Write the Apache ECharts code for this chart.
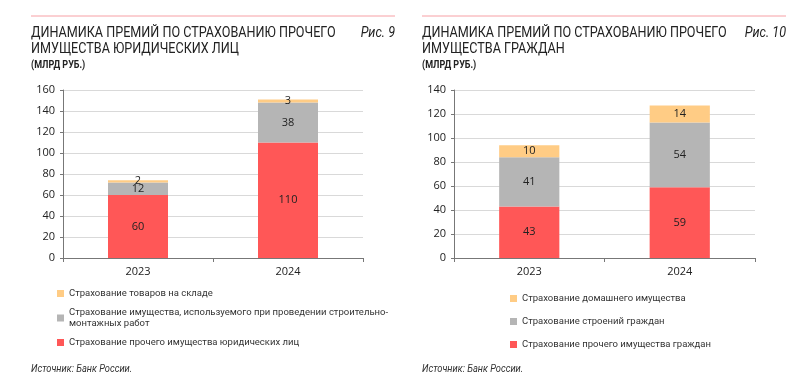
<!DOCTYPE html>
<html>
<head>
<meta charset="utf-8">
<script src="https://cdn.jsdelivr.net/npm/echarts@6/dist/echarts.min.js"></script>
<style>
	html, body { margin: 0; padding: 0; background: #fff; }
	#chart { width: 800px; height: 377px; }
</style>
</head>
<body>
<div id="chart"></div>
<script>
// годы
var years = ['2023', '2024']

// Рис. 9 — юридические лица
var legalNames = [
	'Страхование прочего имущества юридических лиц',
	'Страхование имущества, используемого при проведении строительно-монтажных работ',
	'Страхование товаров на складе'
]
var legalOther = [60, 110]
var legalBuild = [12, 38]
var legalStock = [2, 3]

// Рис. 10 — граждане
var citizenNames = [
	'Страхование прочего имущества граждан',
	'Страхование строений граждан',
	'Страхование домашнего имущества'
]
var citizenOther = [43, 59]
var citizenBuild = [41, 54]
var citizenHome = [10, 14]

var colors = ['#FF5757', '#B5B5B5', '#FFCC85']
var labelFont = '"Open Sans", "Noto Sans", sans-serif'
var textFont = 'Roboto, sans-serif'

function makeSeries(name, data, idx, stack, i) {
	return {
		type: 'bar',
		name: name,
		data: data,
		stack: stack,
		xAxisIndex: idx,
		yAxisIndex: idx,
		barWidth: '40%',
		itemStyle: { color: colors[i] },
		label: {
			show: true,
			position: 'inside',
			color: '#222',
			fontSize: 11,
			fontFamily: labelFont
		}
	}
}

function xAx(idx) {
	return {
		type: 'category',
		gridIndex: idx,
		data: years,
		axisLine: { lineStyle: { color: '#777' } },
		axisTick: { show: true, length: 4, lineStyle: { color: '#777' } },
		axisLabel: { color: '#222', fontSize: 11, fontFamily: labelFont, margin: 8 }
	}
}

function yAx(idx, max) {
	return {
		type: 'value',
		gridIndex: idx,
		min: 0,
		max: max,
		interval: 20,
		axisLine: { show: true, lineStyle: { color: '#777' } },
		axisTick: { show: true, length: 3, lineStyle: { color: '#777' } },
		axisLabel: { color: '#222', fontSize: 11, fontFamily: labelFont, margin: 8 },
		splitLine: { lineStyle: { color: '#D9D9D9' } }
	}
}

function legendCfg(names, left, top, gap) {
	return {
		orient: 'vertical',
		left: left,
		top: top,
		padding: 0,
		itemWidth: 7,
		itemHeight: 7,
		itemGap: gap,
		icon: 'rect',
		data: names.slice().reverse(),
		formatter: function (name) {
			return name.replace('строительно-', 'строительно-\n')
		},
		textStyle: { color: '#333', fontSize: 9.5, fontFamily: textFont, lineHeight: 11 }
	}
}

// текстовые подписи (заголовки, номера рисунков, источник)
function txt(text, x, y, size, opts) {
	opts = opts || {}
	return {
		type: 'text',
		x: x,
		y: y,
		scaleX: opts.scale || 1,
		style: {
			text: text,
			fill: opts.color || '#222',
			font: (opts.italic ? 'italic ' : '') + (opts.bold ? 'bold ' : '') + size + 'px ' + textFont,
			lineHeight: opts.lh || size + 2,
			align: opts.align || 'left',
			verticalAlign: 'top'
		}
	}
}

function header(title, x, right, num) {
	return [
		{ type: 'line', shape: { x1: x, y1: 16, x2: right, y2: 16 }, style: { stroke: '#F7A0A5', lineWidth: 1 } },
		txt(title, x, 25, 14, { scale: 0.9, lh: 16 }),
		txt(num, right, 25, 14, { scale: 0.9, italic: true, align: 'right' }),
		txt('(МЛРД РУБ.)', x, 59, 10, { bold: true, scale: 0.9 }),
		txt('Источник: Банк России.', x, 363, 10, { italic: true, color: '#333', scale: 0.93 })
	]
}

var chart = echarts.init(document.getElementById('chart'), null, { renderer: 'canvas' })
chart.setOption({
	backgroundColor: '#fff',
	animation: false,
	graphic: header('ДИНАМИКА ПРЕМИЙ ПО СТРАХОВАНИЮ ПРОЧЕГО\nИМУЩЕСТВА ЮРИДИЧЕСКИХ ЛИЦ', 31, 395, 'Рис. 9')
		.concat(header('ДИНАМИКА ПРЕМИЙ ПО СТРАХОВАНИЮ ПРОЧЕГО\nИМУЩЕСТВА ГРАЖДАН', 422, 786, 'Рис. 10')),
	legend: [
		legendCfg(legalNames, 57, 288, 8),
		legendCfg(citizenNames, 510, 293, 12)
	],
	grid: [
		{ left: 63, top: 90, width: 300, height: 168 },
		{ left: 454, top: 90, width: 301, height: 168 }
	],
	xAxis: [xAx(0), xAx(1)],
	yAxis: [yAx(0, 160), yAx(1, 140)],
	series: [
		makeSeries(legalNames[0], legalOther, 0, 'a', 0),
		makeSeries(legalNames[1], legalBuild, 0, 'a', 1),
		makeSeries(legalNames[2], legalStock, 0, 'a', 2),
		makeSeries(citizenNames[0], citizenOther, 1, 'b', 0),
		makeSeries(citizenNames[1], citizenBuild, 1, 'b', 1),
		makeSeries(citizenNames[2], citizenHome, 1, 'b', 2)
	]
})
</script>
</body>
</html>
